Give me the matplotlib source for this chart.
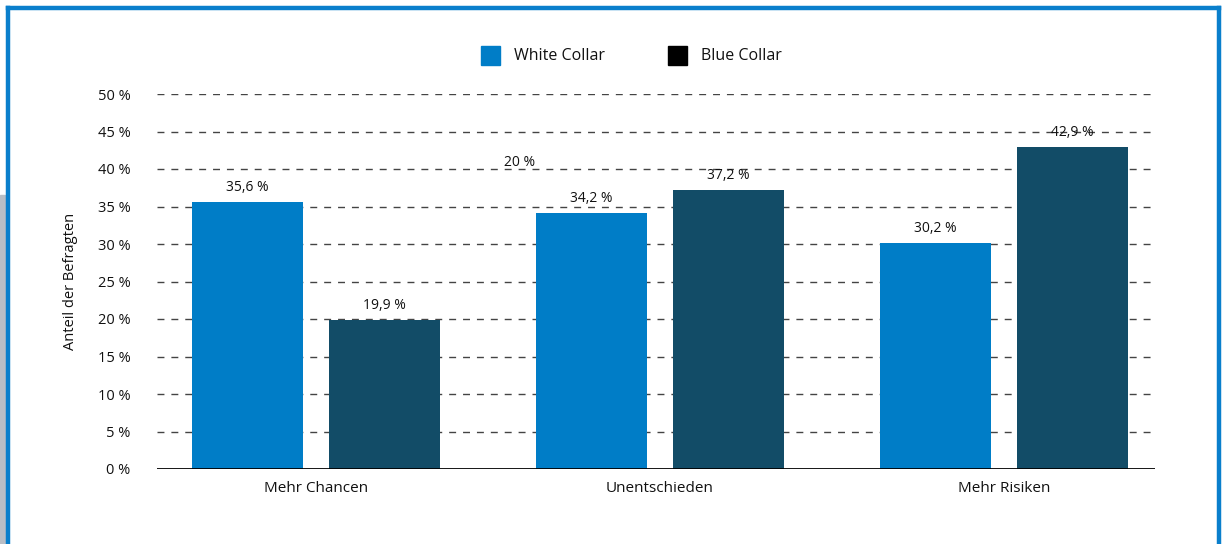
import matplotlib
matplotlib.use("Agg")
import matplotlib.pyplot as plt
from matplotlib.patches import Rectangle
from matplotlib.lines import Line2D

categories = ["Mehr Chancen", "Unentschieden", "Mehr Risiken"]
white_collar = [35.6, 34.2, 30.2]
blue_collar = [19.9, 37.2, 42.9]
yticks = [0, 5, 10, 15, 20, 25, 30, 35, 40, 45, 50]
series_names = ["White Collar", "Blue Collar"]

WC_COLOR = "#007DC7"
BC_COLOR = "#124C67"
FONT = "Open Sans"

plt.rcParams['font.family'] = [FONT, 'DejaVu Sans']

fig = plt.figure(figsize=(12.25, 5.44), dpi=100)
W, H = 1225, 544

def fx(px):
    return px / W

def fy(py):
    return 1 - py / H

ax = fig.add_axes([fx(157), fy(469), fx(1155) - fx(157), fy(94) - fy(469)])

def fmt(v):
    return (f"{v:.1f}".replace(".", ",") + " %") if v != int(v) else f"{int(v)} %"

xs = list(range(len(categories)))
off = 0.199
bw = 0.3227
b1 = ax.bar([x - off for x in xs], white_collar, width=bw, color=WC_COLOR, zorder=3)
b2 = ax.bar([x + off for x in xs], blue_collar, width=bw, color=BC_COLOR, zorder=3)

for bars, vals in ((b1, white_collar), (b2, blue_collar)):
    for r, v in zip(bars, vals):
        ax.annotate(fmt(v), (r.get_x() + r.get_width() / 2, v), xytext=(0, 5),
                    textcoords="offset points", ha="center", va="bottom",
                    fontsize=10, color="#111111", zorder=4)

# stray label present in the reference
ax.text(0.593, 40.9, "20 %", ha="center", va="center", fontsize=10, color="#111111")

ax.set_xlim(-0.462, 2.439)
ax.set_ylim(0, 50)
ax.set_yticks(yticks)
ax.set_yticklabels([f"{t} %" for t in yticks], fontsize=10.5, color="#111111")
ax.set_xticks(xs)
ax.set_xticklabels(categories, fontsize=11, color="#111111")
ax.tick_params(axis="both", length=0)
ax.tick_params(axis="y", pad=19)
ax.tick_params(axis="x", pad=9)
for t in yticks[1:]:
    ax.axhline(t, color="#444444", lw=1, dashes=(5, 5), zorder=1)
for s in ax.spines.values():
    s.set_visible(False)
ax.axhline(0, color="black", lw=2, zorder=4)
ax.set_ylabel("Anteil der Befragten", fontsize=10.5, color="#111111", labelpad=14)

# legend
for px, col, name in ((481, WC_COLOR, series_names[0]), (668, "#000000", series_names[1])):
    fig.patches.append(Rectangle((fx(px), fy(65)), fx(19), 19 / H, transform=fig.transFigure,
                                 color=col, figure=fig))
    fig.text(fx(px + 33), fy(56), name, fontsize=11.5, va="center", ha="left", color="#111111")

# frame
bc = "#0A7FCC"
fig.add_artist(Line2D([fx(8), fx(1219)], [fy(8), fy(8)], color=bc, lw=3.2, transform=fig.transFigure))
fig.add_artist(Line2D([fx(8), fx(8)], [fy(8), fy(544)], color=bc, lw=3.2, transform=fig.transFigure))
fig.add_artist(Line2D([fx(1219), fx(1219)], [fy(8), fy(544)], color=bc, lw=3.2, transform=fig.transFigure))
fig.patches.append(Rectangle((0, 0), fx(5), fy(195), transform=fig.transFigure,
                             color="#B9BEC6", figure=fig))

fig.savefig("out.png", dpi=100)
